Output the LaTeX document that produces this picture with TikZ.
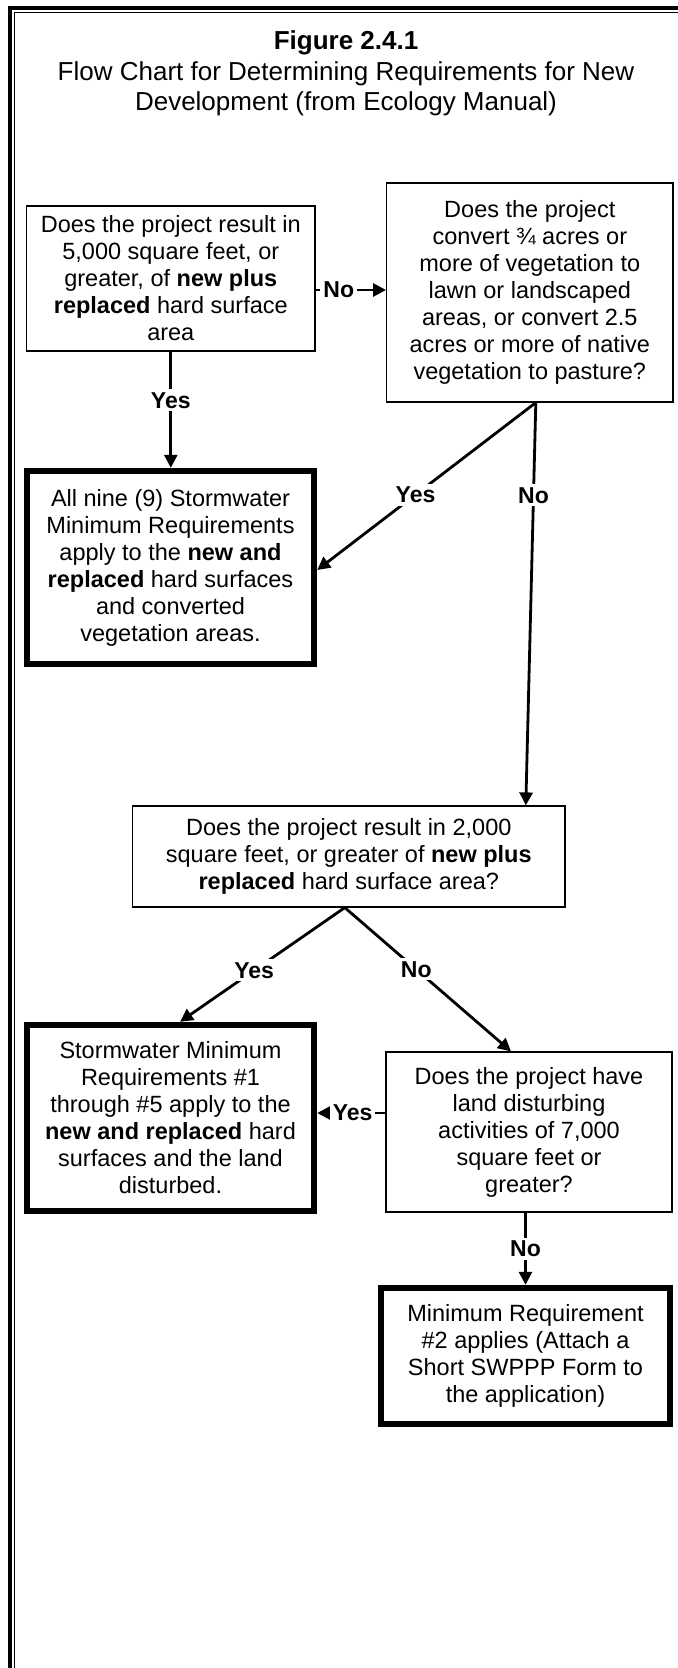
\documentclass[tikz,border=0pt]{standalone}
\usepackage{fontspec}
\setmainfont{Liberation Sans}
\usetikzlibrary{arrows.meta,calc}
\begin{document}
\begin{tikzpicture}[x=0.5pt,y=-0.5pt,
  box/.style={draw,line width=0.6pt,align=center,inner sep=0pt,font=\fontsize{11.75pt}{13.5pt}\selectfont},
  thickbox/.style={box,line width=3.2pt},
  arr/.style={line width=1.4pt,-{Triangle[width=6.5pt,length=6.5pt]}},
  lbl/.style={fill=white,inner sep=1.5pt,font=\fontsize{11.5pt}{13pt}\selectfont\bfseries},
  ttl/.style={anchor=base,inner sep=0pt,font=\fontsize{13pt}{15pt}\selectfont},
]
\useasboundingbox (0,0) rectangle (678,1668);
% frame
\draw[line width=2pt] (9.5,1700) -- (9.5,8.5) -- (700,8.5);
\draw[line width=0.65pt] (14.7,1700) -- (14.7,12.7) -- (700,12.7);
% title
\node[ttl,font=\fontsize{13pt}{15pt}\selectfont\bfseries] (t1) at (346,50) {Figure 2.4.1};
\node[ttl] (t2) at (346,81) {Flow Chart for Determining Requirements for New};
\node[ttl] (t3) at (346,111) {Development (from Ecology Manual)};
% boxes
\node[box,minimum width=144.15pt,minimum height=72.5pt] (b1) at (170.8,278.5)
  {Does the project result in\\5,000 square feet, or\\greater, of \textbf{new plus}\\\textbf{replaced} hard surface\\area};
\node[box,minimum width=143.15pt,minimum height=109.5pt] (b2) at (529.8,292.5)
  {Does the project\\convert ¾ acres or\\more of vegetation to\\lawn or landscaped\\areas, or convert 2.5\\acres or more of native\\vegetation to pasture?};
\node[thickbox,minimum width=143.5pt,minimum height=96.5pt] (b3) at (170.5,567.5)
  {All nine (9) Stormwater\\Minimum Requirements\\apply to the \textbf{new and}\\\textbf{replaced} hard surfaces\\and converted\\vegetation areas.};
\node[box,minimum width=216.25pt,minimum height=50.5pt] (b4) at (348.8,856.5)
  {Does the project result in 2,000\\square feet, or greater of \textbf{new plus}\\\textbf{replaced} hard surface area?};
\node[thickbox,minimum width=143.5pt,minimum height=93pt] (b5) at (170.5,1118)
  {Stormwater Minimum\\Requirements \#1\\through \#5 apply to the\\\textbf{new and replaced} hard\\surfaces and the land\\disturbed.};
\node[box,minimum width=143pt,minimum height=80pt] (b6) at (529,1132)
  {Does the project have\\land disturbing\\activities of 7,000\\square feet or\\greater?};
\node[thickbox,minimum width=144.5pt,minimum height=68pt] (b7) at (525.5,1356)
  {Minimum Requirement\\\#2 applies (Attach a\\Short SWPPP Form to\\the application)};
% connectors
\coordinate (n1) at ($(b1.east)+(0,11.5)$);
\draw[arr] (n1) -- (n1 -| b2.west) node[lbl,pos=0.33]{No};
\draw[arr] (b1.south) -- (b1.south |- b3.north) node[lbl,pos=0.42]{Yes};
\coordinate (s2) at ($(b2.south)+(6,0)$);
\coordinate (e3) at ($(b3.east)+(0,2.5)$);
\coordinate (e4) at ($(b4.north)+(177,0)$);
\draw[arr] (s2) -- (e3) node[lbl,pos=0.55]{Yes};
\draw[arr] (s2) -- (e4) node[lbl,pos=0.23]{No};
\coordinate (s4) at ($(b4.south)+(-4,0)$);
\coordinate (e5) at ($(b5.north)+(9.5,0)$);
\coordinate (e6) at ($(b6.north)+(-18,0)$);
\draw[arr] (s4) -- (e5) node[lbl,pos=0.55]{Yes};
\draw[arr] (s4) -- (e6) node[lbl,pos=0.43]{No};
\coordinate (y6) at ($(b6.west)+(0,-19)$);
\draw[arr] (y6) -- (y6 -| b5.east) node[lbl,pos=0.48]{Yes};
\draw[arr] (b7.north |- b6.south) -- (b7.north) node[lbl,midway]{No};
\end{tikzpicture}
\end{document}
